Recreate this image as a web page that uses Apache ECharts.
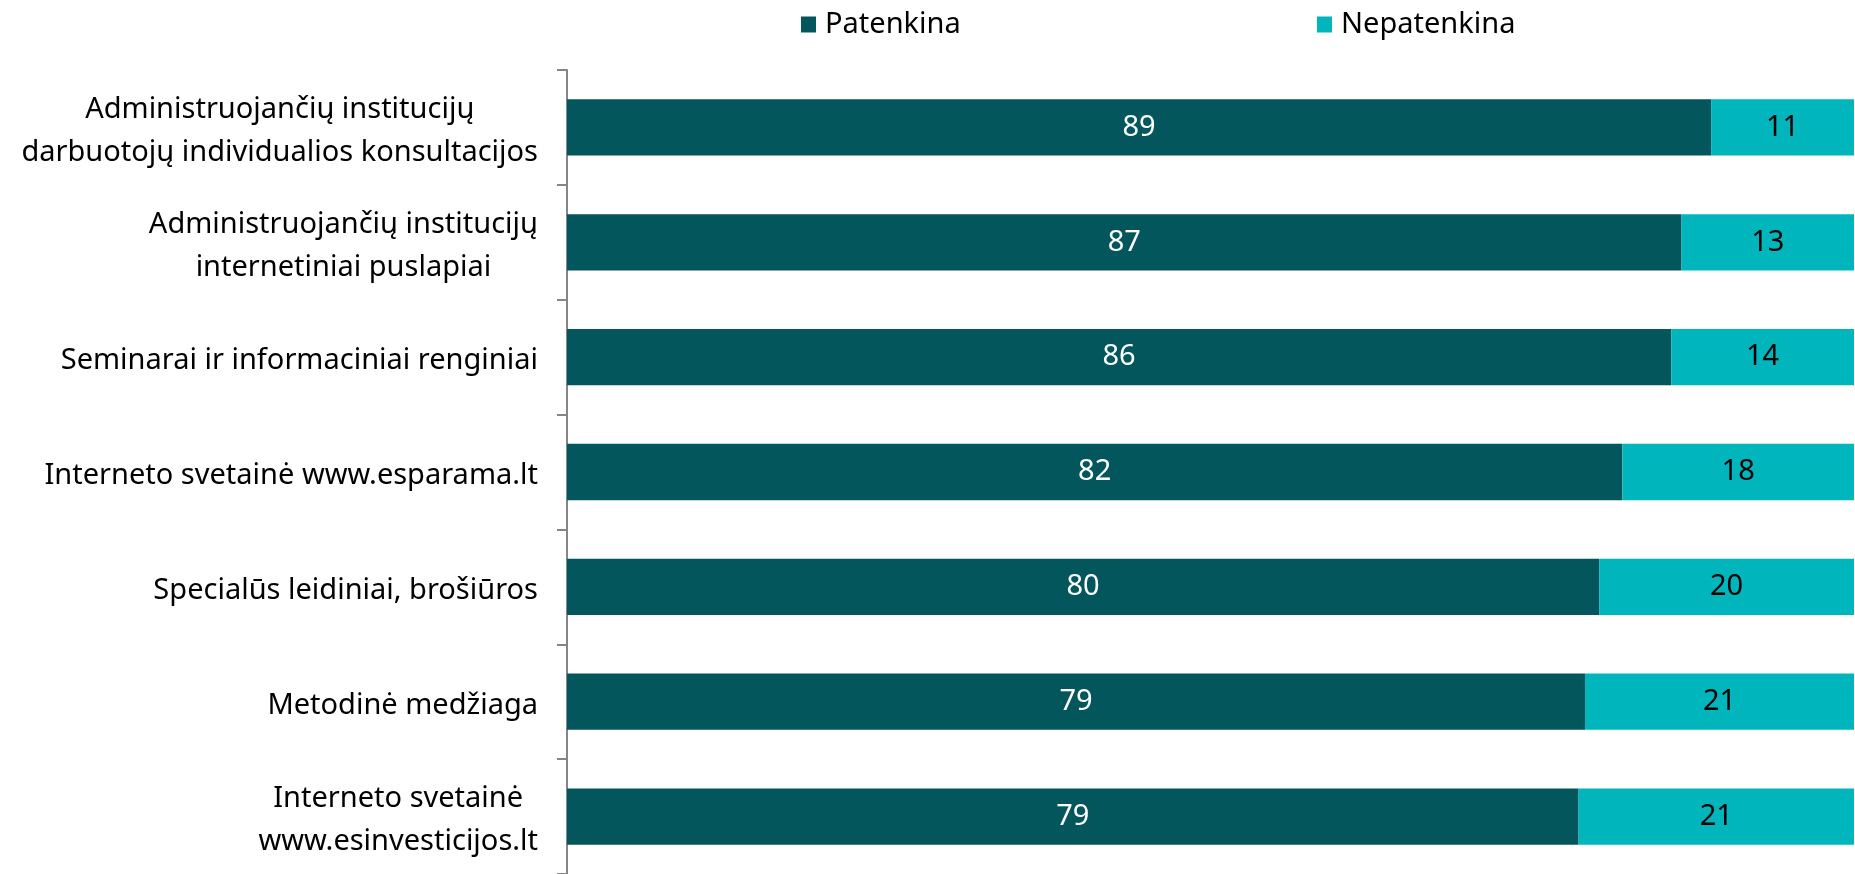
<!DOCTYPE html>
<html>
<head>
<meta charset="utf-8">
<script src="https://cdn.jsdelivr.net/npm/echarts@6/dist/echarts.min.js"></script>
<style>
  html, body { margin: 0; padding: 0; background: #fff; }
  #main { width: 1855px; height: 874px; }
</style>
</head>
<body>
<div id="main"></div>
<script>
var categories = [
    'Administruojančių institucijų\ndarbuotojų individualios konsultacijos',
    'Administruojančių institucijų\ninternetiniai puslapiai',
    'Seminarai ir informaciniai renginiai',
    'Interneto svetainė www.esparama.lt',
    'Specialūs leidiniai, brošiūros',
    'Metodinė medžiaga',
    'Interneto svetainė\nwww.esinvesticijos.lt'
];
var patenkina = [88.9, 86.6, 85.8, 82.0, 80.2, 79.1, 78.6];
var nepatenkina = [11.1, 13.4, 14.2, 18.0, 19.8, 20.9, 21.4];
var seriesNames = ['Patenkina', 'Nepatenkina'];

var FONT = 'Noto Sans';
var myChart = echarts.init(document.getElementById('main'));

var legendText = { fontSize: 29, color: '#000', fontFamily: FONT, padding: [0, 0, 0, 4] };

var option = {
    animation: false,
    textStyle: { fontFamily: FONT },
    legend: [
        {
            data: [seriesNames[0]],
            left: 796, top: 5,
            icon: 'rect', itemWidth: 15, itemHeight: 16,
            textStyle: legendText
        },
        {
            data: [seriesNames[1]],
            left: 1312, top: 5,
            icon: 'rect', itemWidth: 15, itemHeight: 16,
            textStyle: legendText
        }
    ],
    grid: { left: 567, right: 1, top: 70, bottom: 0, containLabel: false },
    xAxis: {
        type: 'value', min: 0, max: 100,
        show: false
    },
    yAxis: {
        type: 'category',
        inverse: true,
        data: categories,
        axisLine: { show: true, lineStyle: { color: '#868686', width: 2 } },
        axisTick: { show: true, length: 10, lineStyle: { color: '#868686', width: 2 } },
        axisLabel: {
            margin: 29,
            padding: [8, 0, 0, 0],
            formatter: function (v) {
                return v.split('\n').map(function (s) { return '{c|' + s + '}'; }).join('\n');
            },
            rich: {
                c: { align: 'center', fontSize: 29, lineHeight: 43, color: '#000', fontFamily: FONT }
            }
        }
    },
    series: [
        {
            name: seriesNames[0], type: 'bar', stack: 'total', barWidth: '49%',
            data: patenkina,
            itemStyle: { color: '#03565B' },
            label: {
                show: true, position: 'inside', color: '#fff', fontSize: 29, fontFamily: FONT,
                padding: [4, 0, 0, 0],
                formatter: function (p) { return Math.round(p.value); }
            }
        },
        {
            name: seriesNames[1], type: 'bar', stack: 'total', barWidth: '49%',
            data: nepatenkina,
            itemStyle: { color: '#00B6BC' },
            label: {
                show: true, position: 'inside', color: '#000', fontSize: 29, fontFamily: FONT,
                padding: [4, 0, 0, 0],
                formatter: function (p) { return Math.round(p.value); }
            }
        }
    ]
};
myChart.setOption(option);
</script>
</body>
</html>
